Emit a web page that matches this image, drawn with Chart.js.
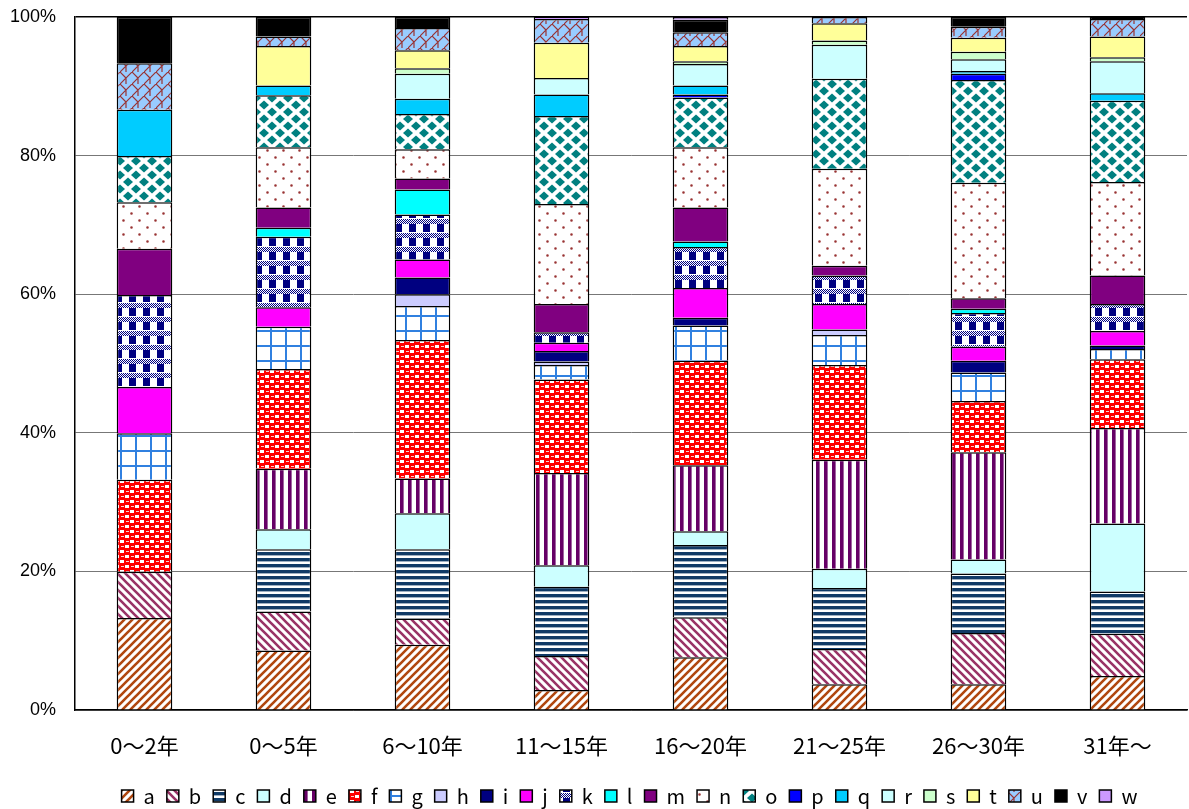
<!DOCTYPE html>
<html>
<head>
<meta charset="utf-8">
<script src="https://cdn.jsdelivr.net/npm/chart.js@4.4.1/dist/chart.umd.min.js"></script>
<style>
  html, body { margin: 0; padding: 0; background: #fff; }
  canvas { display: block; }
</style>
</head>
<body>
<canvas id="chart" width="1189" height="809"></canvas>
<script>
// Categories (years of experience) and per-item shares (%) for each group
const categories = ['0～2年', '0～5年', '6～10年', '11～15年', '16～20年', '21～25年', '26～30年', '31年～'];
const seriesNames = ['a','b','c','d','e','f','g','h','i','j','k','l','m','n','o','p','q','r','s','t','u','v','w'];

const a = [13.3, 8.6, 9.4, 2.9, 7.6, 3.7, 3.7, 4.9];
const b = [6.7, 5.6, 3.8, 4.9, 5.8, 5.1, 7.4, 6.1];
const c = [0, 9.0, 10.0, 10.0, 10.4, 8.8, 8.6, 6.1];
const d = [0, 2.9, 5.2, 3.1, 2.0, 2.8, 2.0, 9.8];
const e = [0, 8.7, 5.0, 13.3, 9.5, 15.7, 15.5, 13.8];
const f = [13.3, 14.4, 20.0, 13.5, 15.1, 13.7, 7.4, 9.9];
const g = [6.7, 6.1, 4.9, 2.1, 5.1, 4.3, 4.1, 1.5];
const h = [0, 0, 1.7, 0.5, 0, 0.8, 0, 0];
const i = [0, 0, 2.4, 1.5, 1.1, 0, 1.7, 0.5];
const j = [6.7, 2.8, 2.6, 1.2, 4.3, 3.7, 2.0, 2.1];
const k = [13.3, 10.2, 6.5, 1.5, 5.9, 4.1, 4.9, 3.9];
const l = [0, 1.3, 3.6, 0, 0.8, 0, 0.6, 0];
const m = [6.7, 2.9, 1.6, 4.1, 4.9, 1.4, 1.5, 4.1];
const n = [6.7, 8.7, 4.2, 14.4, 8.7, 14.0, 16.7, 13.5];
const o = [6.7, 7.5, 5.1, 12.7, 7.2, 13.0, 14.8, 11.7];
const p = [0, 0, 0, 0, 0.4, 0, 0.9, 0];
const q = [6.7, 1.4, 2.2, 3.1, 1.3, 0, 0.4, 1.1];
const r = [0, 0, 3.6, 2.4, 3.1, 4.9, 1.7, 4.6];
const s = [0, 0, 0.8, 0, 0.4, 0.6, 1.1, 0.6];
const t = [0, 5.7, 2.6, 5.1, 2.2, 2.5, 2.0, 3.0];
const u = [6.7, 1.4, 3.2, 3.4, 2.0, 0.9, 1.6, 2.5];
const v = [6.7, 2.8, 1.6, 0, 1.8, 0, 1.4, 0.3];
const w = [0, 0, 0, 0.3, 0.4, 0, 0, 0];

const seriesValues = [a,b,c,d,e,f,g,h,i,j,k,l,m,n,o,p,q,r,s,t,u,v,w];
const yTickValues = [0, 20, 40, 60, 80, 100];

// ---- fill patterns -------------------------------------------------------
const mainCtx = document.getElementById('chart').getContext('2d');
function tile(wd, ht, paint) {
  const cv = document.createElement('canvas');
  cv.width = wd; cv.height = ht;
  const x = cv.getContext('2d');
  paint(x, wd, ht);
  return mainCtx.createPattern(cv, 'repeat');
}
function lines(x, color, width, segs) {
  x.strokeStyle = color; x.lineWidth = width; x.lineCap = 'butt';
  x.beginPath();
  segs.forEach(sg => { x.moveTo(sg[0], sg[1]); x.lineTo(sg[2], sg[3]); });
  x.stroke();
}
function bg(x, color, wd, ht) { x.fillStyle = color; x.fillRect(0, 0, wd, ht); }

const fills = {
  a: tile(8, 8, (x, W, H) => { bg(x, '#fff', W, H);
        lines(x, '#B0470F', 2.6, [[-2,10,10,-2],[-2,2,2,-2],[6,10,10,6]]); }),
  b: tile(8, 8, (x, W, H) => { bg(x, '#fff', W, H);
        lines(x, '#993366', 2.6, [[-2,-2,10,10],[6,-2,10,2],[-2,6,2,10]]); }),
  c: tile(4, 6, (x, W, H) => { bg(x, '#fff', W, H); x.fillStyle = '#103A66'; x.fillRect(0, 0, W, 3.4); }),
  d: '#CCFFFF',
  e: tile(8, 4, (x, W, H) => { bg(x, '#fff', W, H); x.fillStyle = '#660066'; x.fillRect(0, 0, 3.6, H); }),
  f: tile(10, 10, (x, W, H) => { bg(x, '#FF0000', W, H);
        x.fillStyle = '#fff';
        x.fillRect(0, 0, 4, 3); x.fillRect(5, 5, 4, 3);
        x.fillStyle = '#FFD0D0';
        x.fillRect(6, 1, 3, 1); x.fillRect(1, 6, 3, 1); }),
  g: tile(15, 15, (x, W, H) => { bg(x, '#fff', W, H); x.fillStyle = '#3080E0';
        x.fillRect(0, 0, 2, H); x.fillRect(0, 0, W, 2); }),
  h: '#CCCCFF',
  i: '#000080',
  j: '#FF00FF',
  k: tile(14, 14, (x, W, H) => { bg(x, '#fff', W, H); x.fillStyle = '#000080';
        x.fillRect(3, 0, 7, 8);
        for (let yy = 9; yy < 14; yy++) for (let xx = 0; xx < 14; xx++)
          if ((xx + yy) % 2 === 0) x.fillRect(xx, yy, 1, 1); }),
  l: '#00FFFF',
  m: '#800080',
  n: tile(16, 14, (x, W, H) => { bg(x, '#fff', W, H); x.fillStyle = '#993333';
        x.beginPath(); x.arc(3.5, 3.5, 1.3, 0, Math.PI * 2); x.arc(11.5, 10.5, 1.3, 0, Math.PI * 2); x.fill(); }),
  o: tile(16, 14, (x, W, H) => { bg(x, '#fff', W, H); x.fillStyle = '#008080';
        const dia = (cx, cy) => { x.beginPath(); x.moveTo(cx - 5, cy); x.lineTo(cx, cy - 4.4); x.lineTo(cx + 5, cy); x.lineTo(cx, cy + 4.4); x.closePath(); x.fill(); };
        dia(8, 7); dia(0, 0); dia(16, 0); dia(0, 14); dia(16, 14); }),
  p: '#0000FF',
  q: '#00CCFF',
  r: '#CCFFFF',
  s: '#CCFFCC',
  t: '#FFFF99',
  u: tile(12, 12, (x, W, H) => { bg(x, '#99CCFF', W, H);
        lines(x, '#993333', 1.2, [[-1,13,13,-1],[0,0,6,6],[6,6,6,12]]); }),
  v: '#000000',
  w: '#CC99FF'
};

// ---- 100% stacking --------------------------------------------------------
const totals = categories.map((_, ci) => seriesValues.reduce((sum, arr) => sum + arr[ci], 0));

const datasets = seriesNames.map((name, si) => ({
  label: name,
  data: seriesValues[si].map((val, ci) => val / totals[ci] * 100),
  backgroundColor: fills[name],
  borderColor: '#000',
  borderWidth: 1.5,
  barPercentage: 0.4,
  categoryPercentage: 1.0
}));

// Legend row: fixed vertical position and a slight shift to the right
const legendPlacement = {
  id: 'legendPlacement',
  afterLayout(chart) {
    const lg = chart.legend;
    if (!lg) return;
    const hgt = lg.bottom - lg.top;
    lg.top = 774;
    lg.bottom = lg.top + hgt;
    lg.left = 35;
    lg.right = 1189 + 35;
  }
};

new Chart(mainCtx, {
  type: 'bar',
  data: { labels: categories, datasets },
  plugins: [legendPlacement],
  options: {
    responsive: false,
    animation: false,
    layout: { padding: { top: 17, right: 2, left: 0, bottom: 0 } },
    plugins: {
      tooltip: { enabled: false },
      legend: {
        position: 'bottom',
        maxHeight: 39,
        labels: {
          boxWidth: 12,
          boxHeight: 12,
          padding: 12,
          color: '#000',
          font: { family: "'Noto Sans CJK JP', sans-serif", size: 20 }
        }
      }
    },
    scales: {
      x: {
        stacked: true,
        grid: { display: false },
        border: { color: '#000', width: 1.5 },
        afterFit(scale) { scale.height = 60; },
        ticks: {
          color: '#000',
          padding: 14,
          font: { family: "'Noto Sans CJK JP', sans-serif", size: 22 }
        }
      },
      y: {
        stacked: true,
        min: 0,
        max: 100,
        afterBuildTicks(scale) { scale.ticks = yTickValues.map(vv => ({ value: vv })); },
        afterFit(scale) { scale.width = 75; scale.paddingTop = 0; scale.paddingBottom = 0; },
        grid: {
          drawTicks: false,
          color: (ctx) => ctx.tick && ctx.tick.value === 100 ? '#000' : '#777',
          lineWidth: (ctx) => ctx.tick && ctx.tick.value === 100 ? 1.5 : 1
        },
        border: { color: '#000', width: 1.5 },
        ticks: {
          color: '#000',
          padding: 19,
          font: { family: "'Liberation Sans', Arial, sans-serif", size: 18 },
          callback: (vv) => vv + '%'
        }
      }
    }
  }
});
</script>
</body>
</html>
